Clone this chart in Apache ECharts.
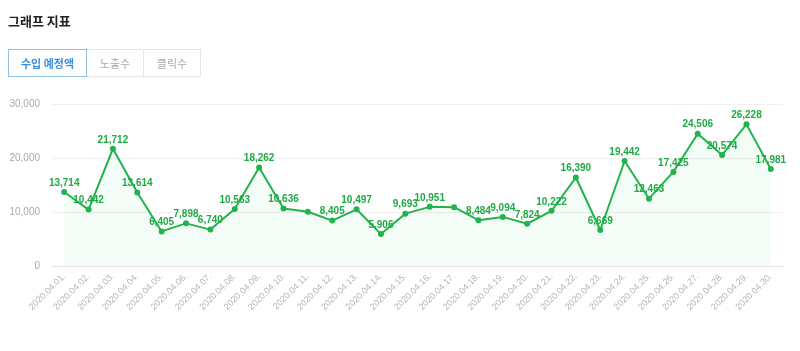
<!DOCTYPE html>
<html>
<head>
<meta charset="utf-8">
<script src="https://cdn.jsdelivr.net/npm/echarts@6/dist/echarts.min.js"></script>
<style>
  html, body { margin: 0; padding: 0; background: #fff; }
  body { width: 800px; height: 351px; position: relative; overflow: hidden;
         font-family: "Noto Sans CJK KR", "Noto Sans", sans-serif; }
  #title { position: absolute; left: 8px; top: 11px; font-size: 13px; font-weight: bold; color: #222; }
  #tabs { position: absolute; left: 8px; top: 49px; display: flex; z-index: 2; }
  .tab { box-sizing: border-box; height: 28px; line-height: 26px; text-align: center;
         font-size: 11px; color: #aaa; border: 1px solid #e6e6e6; border-left: none; }
  .tab.on { color: #3d8fdc; border: 1px solid #8dbfe8; font-weight: bold; }
  #chart { position: absolute; left: 0; top: 0; width: 800px; height: 351px; }
</style>
</head>
<body>
<div id="chart"></div>
<div id="title">그래프 지표</div>
<div id="tabs">
  <div class="tab on" style="width:79px">수입 예정액</div>
  <div class="tab" style="width:57px">노출수</div>
  <div class="tab" style="width:57px">클릭수</div>
</div>
<script>
    // 날짜 (x축)
    const days = ['2020.04.01.', '2020.04.02.', '2020.04.03.', '2020.04.04.', '2020.04.05.',
        '2020.04.06.', '2020.04.07.', '2020.04.08.', '2020.04.09.', '2020.04.10.',
        '2020.04.11.', '2020.04.12.', '2020.04.13.', '2020.04.14.', '2020.04.15.',
        '2020.04.16.', '2020.04.17.', '2020.04.18.', '2020.04.19.', '2020.04.20.',
        '2020.04.21.', '2020.04.22.', '2020.04.23.', '2020.04.24.', '2020.04.25.',
        '2020.04.26.', '2020.04.27.', '2020.04.28.', '2020.04.29.', '2020.04.30.'];
    // 수입 예정액
    const income = [13714, 10442, 21712, 13614, 6405, 7898, 6740, 10563, 18262, 10636,
        10050, 8405, 10497, 5906, 9693, 10951, 10900, 8484, 9094, 7824,
        10222, 16390, 6669, 19442, 12463, 17425, 24506, 20574, 26228, 17981];
    // 라벨이 안 보이는 날 (겹침)
    const noLabel = [10, 16];

    const green = '#22b34c';

    const option = {
        animation: false,
        grid: { left: 52, right: 17, top: 104, bottom: 85 },
        xAxis: {
            type: 'category',
            data: days,
            boundaryGap: true,
            axisLine: { lineStyle: { color: '#dfe3ea' } },
            axisTick: { lineStyle: { color: '#dfe3ea' } },
            axisLabel: {
                interval: 0,
                rotate: 45,
                fontSize: 9,
                color: '#b5b5b5',
                margin: 9
            }
        },
        yAxis: {
            type: 'value',
            min: 0,
            max: 30000,
            interval: 10000,
            axisLine: { show: false },
            axisTick: { show: false },
            axisLabel: { fontSize: 10, color: '#aaa', margin: 12 },
            splitLine: { lineStyle: { color: '#efefef' } }
        },
        series: [{
            type: 'line',
            data: income.map((v, i) => noLabel.includes(i) ? { value: v, label: { show: false } } : v),
            symbol: 'circle',
            symbolSize: 6,
            lineStyle: { color: green, width: 2 },
            itemStyle: { color: green },
            areaStyle: { color: 'rgba(40, 200, 90, 0.07)' },
            label: {
                show: true,
                position: 'top',
                distance: 1,
                fontSize: 10,
                fontWeight: 'bold',
                color: '#1faa45',
                formatter: p => p.value.toLocaleString('en-US')
            }
        }]
    };

    const chart = echarts.init(document.getElementById('chart'));
    chart.setOption(option);
</script>
</body>
</html>
